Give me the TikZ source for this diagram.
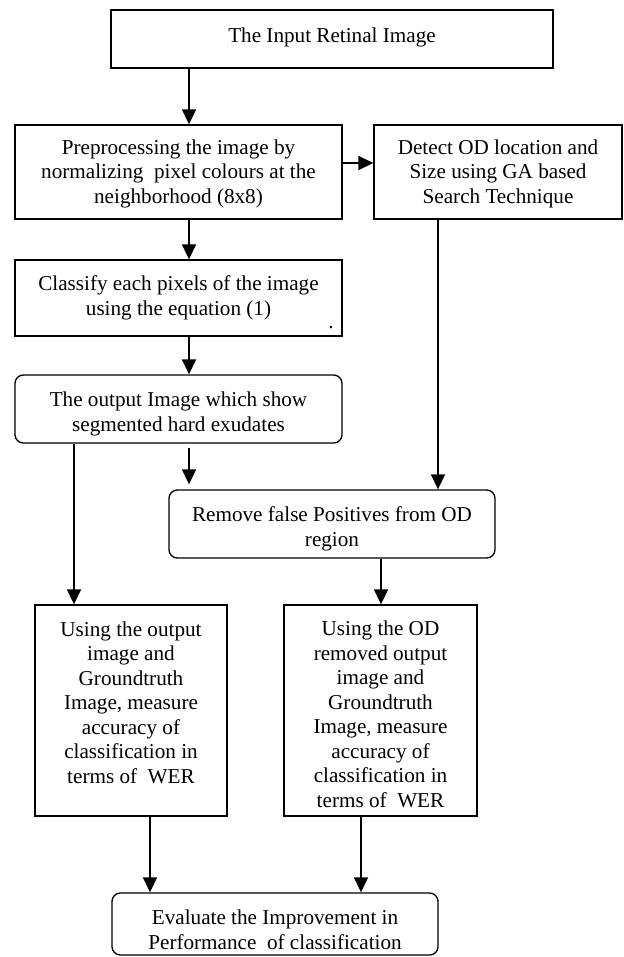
\documentclass[tikz,border=0pt]{standalone}
\usepackage{fontspec}
\setmainfont{Liberation Serif}
\usetikzlibrary{arrows.meta}

\tikzset{
    stepbox/.style={draw, line width=0.8pt, align=center, inner sep=2pt,
        font=\fontsize{12.7}{14.7}\selectfont},
    roundbox/.style={stepbox, rounded corners=5pt},
    arr/.style={line width=1pt, -{Triangle[length=9pt,width=8.4pt]}}
}

\begin{document}
\begin{tikzpicture}[x=0.6pt, y=-0.6pt]
        \useasboundingbox (0, 0) rectangle (623, 957);

        % lanes of the arrows
        \coordinate (lane) at (189, 0);
        \coordinate (llane) at (74, 0);
        \coordinate (rlane) at (438, 0);
        \coordinate (mlane) at (381, 0);
        \coordinate (elane) at (150, 0);
        \coordinate (flane) at (361, 0);
        \coordinate (row) at (0, 163);

        \node[stepbox, minimum width=265.2pt, minimum height=34.8pt] (input) at (332, 39)
            {The Input Retinal Image\rule[-5pt]{0pt}{5pt}};

        \node[stepbox, minimum width=196.2pt, minimum height=56.4pt] (prep) at (178.5, 172)
            {\rule{0pt}{11pt}Preprocessing the image by\\normalizing\ \ pixel colours at the\\neighborhood (8x8)};
        \node[stepbox, minimum width=148.8pt, minimum height=56.4pt] (detect) at (498, 172)
            {\rule{0pt}{11pt}Detect OD location and\\Size using GA based\\Search Technique};

        \node[stepbox, minimum width=196.2pt, minimum height=45.6pt] (classify) at (178.5, 298)
            {Classify each pixels of the image\\using the equation (1)};
        \node[font=\fontsize{12.7}{14.7}\selectfont, inner sep=0pt] (stray) at (331, 328) {.};

        \node[roundbox, minimum width=196.2pt, minimum height=40.8pt] (output) at (178.5, 409)
            {\rule{0pt}{15pt}The output Image which show\\segmented hard exudates};

        \node[roundbox, minimum width=195.6pt, minimum height=40.8pt] (remove) at (332, 524)
            {\rule{0pt}{15pt}Remove false Positives from OD\\region};

        \node[stepbox, minimum width=115.2pt, minimum height=126.6pt] (usel) at (131, 710.5)
            {Using the output\\image and\\Groundtruth\\Image, measure\\accuracy of\\classification in\\terms of\ \ WER\rule[-9.6pt]{0pt}{9.6pt}};
        \node[stepbox, minimum width=115.8pt, minimum height=126.6pt] (user) at (380.5, 710.5)
            {\rule{0pt}{13.5pt}Using the OD\\removed output\\image and\\Groundtruth\\Image, measure\\accuracy of\\classification in\\terms of\ \ WER};

        \node[roundbox, minimum width=195.6pt, minimum height=37.2pt, inner ysep=1pt] (eval) at (275, 924)
            {\rule{0pt}{15.5pt}Evaluate the Improvement in\\Performance\ \ of classification};

        % connectors
        \draw[arr] (input.south -| lane) -- (prep.north -| lane);
        \draw[arr] (prep.east |- row) -- (detect.west |- row);
        \draw[arr] (prep.south -| lane) -- (classify.north -| lane);
        \draw[arr] (classify.south -| lane) -- (output.north -| lane);
        \draw[arr] ([yshift=-2.4pt]output.south -| lane) -- ([yshift=3pt]remove.north -| lane);
        \draw[arr] (detect.south -| rlane) -- (remove.north -| rlane);
        \draw[arr] (output.south -| llane) -- (usel.north -| llane);
        \draw[arr] (remove.south -| mlane) -- (user.north -| mlane);
        \draw[arr] (usel.south -| elane) -- (eval.north -| elane);
        \draw[arr] (user.south -| flane) -- (eval.north -| flane);
\end{tikzpicture}
\end{document}
